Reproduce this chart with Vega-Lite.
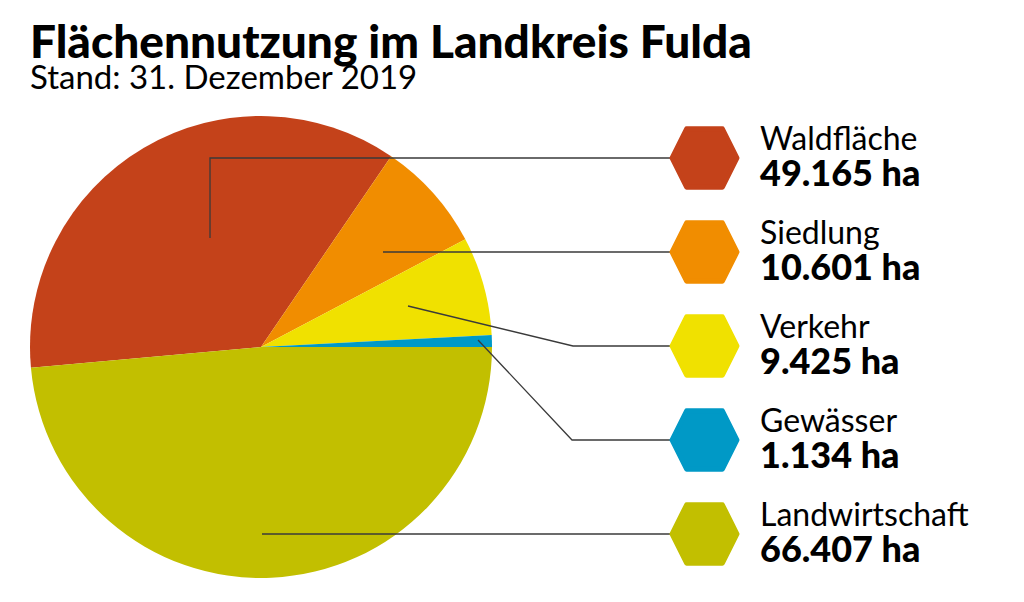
{
  "$schema": "https://vega.github.io/schema/vega-lite/v6.json",
  "width": 1024,
  "height": 602,
  "autosize": {"type": "fit", "contains": "padding"},
  "padding": 0,
  "background": "white",
  "config": {"view": {"stroke": null}, "font": "Lato"},
  "datasets": {
    "flaeche": [
      {"name": "Waldfläche", "ha": 49165, "label": "49.165 ha", "pie_order": 2},
      {"name": "Siedlung", "ha": 10601, "label": "10.601 ha", "pie_order": 3},
      {"name": "Verkehr", "ha": 9425, "label": "9.425 ha", "pie_order": 4},
      {"name": "Gewässer", "ha": 1134, "label": "1.134 ha", "pie_order": 5},
      {"name": "Landwirtschaft", "ha": 66407, "label": "66.407 ha", "pie_order": 1}
    ],
    "leaders": [
      {"name": "Waldfläche", "i": 1, "x": 210, "y": 238},
      {"name": "Waldfläche", "i": 2, "x": 210, "y": 158},
      {"name": "Waldfläche", "i": 3, "x": 672, "y": 158},
      {"name": "Siedlung", "i": 1, "x": 383, "y": 252},
      {"name": "Siedlung", "i": 2, "x": 672, "y": 252},
      {"name": "Verkehr", "i": 1, "x": 408, "y": 306},
      {"name": "Verkehr", "i": 2, "x": 573, "y": 346},
      {"name": "Verkehr", "i": 3, "x": 672, "y": 346},
      {"name": "Gewässer", "i": 1, "x": 478, "y": 340},
      {"name": "Gewässer", "i": 2, "x": 572, "y": 440},
      {"name": "Gewässer", "i": 3, "x": 672, "y": 440},
      {"name": "Landwirtschaft", "i": 1, "x": 262, "y": 534},
      {"name": "Landwirtschaft", "i": 2, "x": 672, "y": 534}
    ]
  },
  "layer": [
    {
      "layer": [
        {
          "data": {"name": "flaeche"},
          "mark": {"type": "arc", "radius": 231, "stroke": null},
          "encoding": {
            "x": {"datum": 261, "type": "quantitative", "scale": {"domain": [0, 1024], "nice": false, "zero": false}, "axis": null},
            "y": {"datum": 347, "type": "quantitative", "scale": {"domain": [0, 602], "nice": false, "zero": false, "reverse": true}, "axis": null},
            "theta": {"field": "ha", "type": "quantitative", "stack": true, "scale": {"range": [1.5708, 7.85398]}},
            "order": {"field": "pie_order", "type": "quantitative"},
            "color": {
              "field": "name", "type": "nominal", "legend": null,
              "scale": {
                "domain": ["Waldfläche", "Siedlung", "Verkehr", "Gewässer", "Landwirtschaft"],
                "range": ["#C4421A", "#F18D00", "#F0E100", "#0099C6", "#C2BF00"]
              }
            }
          }
        },
        {
          "data": {"name": "leaders"},
          "mark": {"type": "line", "color": "#3a3a3a", "strokeWidth": 1.3},
          "encoding": {
            "x": {"field": "x", "type": "quantitative", "scale": {"domain": [0, 1024], "nice": false, "zero": false}, "axis": null},
            "y": {"field": "y", "type": "quantitative", "scale": {"domain": [0, 602], "nice": false, "zero": false, "reverse": true}, "axis": null},
            "detail": {"field": "name", "type": "nominal"},
            "order": {"field": "i", "type": "quantitative"}
          }
        },
        {
          "data": {"values": [{"t": "Flächennutzung im Landkreis Fulda"}]},
          "mark": {"type": "text", "align": "left", "baseline": "alphabetic", "font": "Lato", "fontWeight": 900, "fontSize": 46, "color": "#000000"},
          "encoding": {
            "x": {"datum": 30, "type": "quantitative", "scale": {"domain": [0, 1024], "nice": false, "zero": false}, "axis": null},
            "y": {"datum": 58, "type": "quantitative", "scale": {"domain": [0, 602], "nice": false, "zero": false, "reverse": true}, "axis": null},
            "text": {"field": "t"}
          }
        },
        {
          "data": {"values": [{"t": "Stand: 31. Dezember 2019"}]},
          "mark": {"type": "text", "align": "left", "baseline": "alphabetic", "font": "Lato", "fontWeight": "normal", "fontSize": 33, "color": "#000000"},
          "encoding": {
            "x": {"datum": 30, "type": "quantitative", "scale": {"domain": [0, 1024], "nice": false, "zero": false}, "axis": null},
            "y": {"datum": 89, "type": "quantitative", "scale": {"domain": [0, 602], "nice": false, "zero": false, "reverse": true}, "axis": null},
            "text": {"field": "t"}
          }
        }
      ]
    },
    {
      "data": {"name": "flaeche"},
      "encoding": {
        "y": {
          "field": "name", "type": "nominal", "axis": null,
          "scale": {"type": "point", "domain": ["Waldfläche", "Siedlung", "Verkehr", "Gewässer", "Landwirtschaft"], "range": [158, 534], "padding": 0}
        }
      },
      "layer": [
        {
          "mark": {
            "type": "point", "filled": true, "opacity": 1,
            "shape": "M -1 0 L -0.55 -0.9 L 0.55 -0.9 L 1 0 L 0.55 0.9 L -0.55 0.9 Z",
            "size": 4225, "strokeWidth": 5, "strokeJoin": "round", "strokeOpacity": 1
          },
          "encoding": {
            "x": {"datum": 704.5, "type": "quantitative", "scale": {"domain": [0, 1024], "nice": false, "zero": false}, "axis": null},
            "color": {"field": "name", "type": "nominal", "legend": null},
            "stroke": {
              "field": "name", "type": "nominal", "legend": null,
              "scale": {
                "domain": ["Waldfläche", "Siedlung", "Verkehr", "Gewässer", "Landwirtschaft"],
                "range": ["#C4421A", "#F18D00", "#F0E100", "#0099C6", "#C2BF00"]
              }
            }
          }
        },
        {
          "mark": {"type": "text", "align": "left", "baseline": "alphabetic", "dy": -8, "font": "Lato", "fontWeight": "normal", "fontSize": 32, "color": "#000000"},
          "encoding": {
            "x": {"datum": 760, "type": "quantitative", "scale": {"domain": [0, 1024], "nice": false, "zero": false}, "axis": null},
            "text": {"field": "name"}
          }
        },
        {
          "mark": {"type": "text", "align": "left", "baseline": "alphabetic", "dy": 28, "font": "Lato", "fontWeight": 900, "fontSize": 36, "color": "#000000"},
          "encoding": {
            "x": {"datum": 760, "type": "quantitative", "scale": {"domain": [0, 1024], "nice": false, "zero": false}, "axis": null},
            "text": {"field": "label"}
          }
        }
      ]
    }
  ],
  "resolve": {"scale": {"y": "independent"}}
}
